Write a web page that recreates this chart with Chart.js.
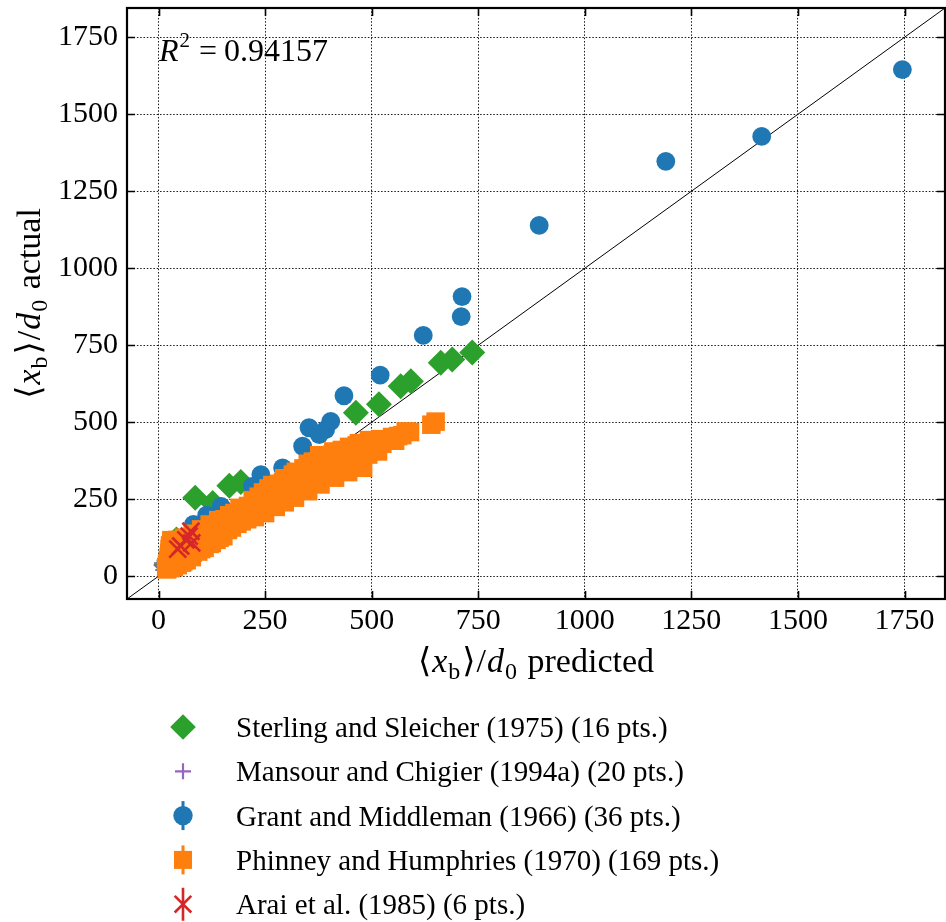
<!DOCTYPE html>
<html><head><meta charset="utf-8">
<script src="https://cdn.jsdelivr.net/npm/chart.js@4/dist/chart.umd.min.js"></script>
<style>html,body{margin:0;padding:0;background:#fff}canvas{display:block}</style>
</head><body>
<canvas id="c" width="946" height="922" style="width:946px;height:922px"></canvas>
<script>
// ---------------- data ----------------
const tickValues = [0, 250, 500, 750, 1000, 1250, 1500, 1750];
const tickLabels = ['0', '250', '500', '750', '1000', '1250', '1500', '1750'];
const axisMin = -74;
const axisMax = 1845;
const identityLine = [-74, 1845];
const rSquared = '0.94157';

const seriesLabels = [
  'Sterling and Sleicher (1975) (16 pts.)',
  'Mansour and Chigier (1994a) (20 pts.)',
  'Grant and Middleman (1966) (36 pts.)',
  'Phinney and Humphries (1970) (169 pts.)',
  'Arai et al. (1985) (6 pts.)'
];

const sterlingX = [736, 689, 662, 592, 568, 517, 463, 193, 166, 127, 86, 42, 18, 30, 55, 25];
const sterlingY = [726, 704, 693, 633, 617, 558, 531, 306, 294, 238, 255, 119, 36, 70, 95, 52];

const mansourX = [8, 11, 13, 14, 17, 19, 21, 22, 25, 26, 29, 31, 33, 35, 37, 39, 42, 45, 49, 53];
const mansourY = [42, 20, 30, 35, 50, 25, 45, 60, 33, 48, 70, 40, 58, 28, 75, 52, 65, 45, 80, 60];

const grantX = [1745, 1415, 1190, 893, 712, 710, 621, 520, 435, 404, 392, 377, 353, 338, 291, 240, 220, 147, 113, 82,
  20, 25, 30, 38, 45, 55, 62, 70, 90, 130, 175, 210, 260, 300, 340, 48];
const grantY = [1645, 1428, 1347, 1139, 908, 843, 782, 653, 586, 503, 476, 460, 482, 422, 352, 330, 292, 227, 198, 168,
  28, 42, 55, 65, 75, 88, 95, 105, 120, 150, 180, 210, 245, 270, 300, 100];

const phinneyX = [
  20, 28, 36, 45, 55, 66, 78, 93, 108, 125, 143, 163, 185, 208, 226, 250, 275, 296, 320, 351, 380, 414, 445, 480,
  30, 45, 60, 80, 100, 120, 140, 166, 190, 221, 245, 267, 295, 322, 350, 377, 410, 447, 470, 494, 525, 548, 572, 580, 650,
  18, 20, 22, 24, 25, 26, 27, 30, 32, 33, 34, 35, 36, 38, 40, 42, 43, 44, 46, 48, 50, 52, 54, 56, 58, 60, 62, 64, 66, 70,
  72, 74, 76, 80, 84, 88, 92, 96, 100, 104,
  112, 120, 128, 136, 145, 152, 160, 172, 180, 195, 205, 215, 230, 240, 255, 262, 280, 288, 300, 310, 325, 335, 345, 358,
  368, 375, 390, 398, 405, 418, 425, 435, 442, 455, 462, 470, 485, 492, 505, 515,
  115, 130, 148, 155, 170, 178, 198, 210, 225, 235, 250, 258, 272, 282, 292, 305, 315, 330, 340, 352, 362, 372, 385, 395,
  408, 420, 430, 440, 452, 465, 478, 488, 500, 512, 520, 535, 555, 562, 590, 640
];
const phinneyY = [
  22, 26, 30, 36, 44, 52, 62, 80, 92, 108, 125, 150, 170, 185, 192, 205, 225, 240, 255, 276, 298, 320, 338, 352,
  117, 118, 125, 138, 152, 168, 182, 198, 222, 247, 272, 296, 318, 339, 365, 393, 405, 420, 432, 442, 430, 452, 458, 470, 502,
  30, 40, 52, 64, 76, 88, 100, 108, 92, 80, 68, 56, 46, 38, 50, 62, 74, 86, 98, 106, 92, 80, 68, 58, 48, 70, 84, 96, 108, 98,
  86, 74, 64, 76, 90, 104, 118, 100, 88, 110,
  120, 105, 132, 118, 142, 130, 165, 158, 185, 178, 205, 196, 228, 215, 245, 230, 262, 250, 285, 268, 300, 285, 320, 300,
  340, 318, 355, 335, 378, 350, 392, 362, 400, 372, 410, 385, 418, 395, 425, 405,
  140, 155, 165, 185, 190, 205, 210, 228, 240, 258, 268, 285, 278, 300, 306, 318, 330, 325, 350, 345, 372, 365, 385, 372,
  395, 380, 410, 385, 408, 425, 410, 432, 440, 420, 445, 440, 440, 455, 468, 492
];

const araiX = [45, 52, 64, 72, 78, 76];
const araiY = [88, 98, 118, 130, 108, 146];

// ---------------- styling ----------------
const SERIF = '"Liberation Serif", "DejaVu Serif", "DejaVu Sans", serif';
const colors = { green: '#2ca02c', purple: '#9467bd', blue: '#1f77b4', orange: '#ff7f0e', red: '#d62728' };

function pts(xs, ys) { return xs.map((x, i) => ({ x: x, y: ys[i] })); }

function richWidth(ctx, segs) {
  let w = 0;
  for (const s of segs) { ctx.font = s.f; w += (s.dx || 0) + ctx.measureText(s.t).width; }
  return w;
}
function drawRich(ctx, segs, x, y) {
  let cx = x;
  for (const s of segs) {
    cx += s.dx || 0;
    ctx.font = s.f;
    ctx.fillText(s.t, cx, y + (s.dy || 0));
    cx += ctx.measureText(s.t).width;
  }
}
function axisTitleSegs(size, word) {
  const r = size + 'px ' + SERIF, it = 'italic ' + size + 'px ' + SERIF, sub = Math.round(size * 0.7) + 'px ' + SERIF;
  return [
    { t: '\u27E8', f: r }, { t: 'x', f: it, dx: 1 }, { t: 'b', f: sub, dy: size * 0.2, dx: 1 }, { t: '\u27E9', f: r, dx: 2 },
    { t: '/', f: r, dx: 1 }, { t: 'd', f: it, dx: 1 }, { t: '0', f: sub, dy: size * 0.2, dx: 1 }, { t: ' ' + word, f: r, dx: 2 }
  ];
}

const decorPlugin = {
  id: 'decor',
  afterDatasetsDraw(chart) {
    const { ctx, chartArea: a, scales } = chart;
    ctx.save();
    ctx.strokeStyle = '#000';
    ctx.lineWidth = 1.6;
    const tl = 8;
    for (const v of tickValues) {
      const px = Math.round(scales.x.getPixelForValue(v)) + 0.5;
      const py = Math.round(scales.y.getPixelForValue(v)) + 0.5;
      ctx.beginPath();
      ctx.moveTo(px, a.bottom); ctx.lineTo(px, a.bottom - tl);
      ctx.moveTo(px, a.top); ctx.lineTo(px, a.top + tl);
      ctx.moveTo(a.left, py); ctx.lineTo(a.left + tl, py);
      ctx.moveTo(a.right, py); ctx.lineTo(a.right - tl, py);
      ctx.stroke();
    }
    ctx.lineWidth = 2.2;
    ctx.strokeRect(a.left, a.top, a.right - a.left, a.bottom - a.top);
    ctx.restore();
  },
  afterDraw(chart) {
    const { ctx, chartArea: a } = chart;
    ctx.save();
    ctx.fillStyle = '#000';
    ctx.textBaseline = 'alphabetic';
    // R^2 annotation
    drawRich(ctx, [
      { t: 'R', f: 'italic 32px ' + SERIF },
      { t: '2', f: '21px ' + SERIF, dy: -14, dx: 1 },
      { t: '=', f: '32px ' + SERIF, dx: 9 },
      { t: rSquared, f: '32px ' + SERIF, dx: 7 }
    ], 159, 61);
    // x title
    const xs = axisTitleSegs(34, 'predicted');
    const xw = richWidth(ctx, xs);
    drawRich(ctx, xs, (a.left + a.right) / 2 - xw / 2, 672);
    // y title
    const ys = axisTitleSegs(34, 'actual');
    const yw = richWidth(ctx, ys);
    ctx.save();
    ctx.translate(40, (a.top + a.bottom) / 2);
    ctx.rotate(-Math.PI / 2);
    drawRich(ctx, ys, -yw / 2, 0);
    ctx.restore();

    // legend
    const lx = 183, tx = 236, y0 = 727, step = 44.3;
    chart.data.datasets.forEach((ds) => {
      if (!ds.legendKind) return;
      const y = y0 + step * ds.legendIndex;
      const c = ds.legendColor;
      ctx.save();
      ctx.fillStyle = c; ctx.strokeStyle = c;
      if (ds.legendKind === 'diamond') {
        const h = 12.8;
        ctx.beginPath(); ctx.moveTo(lx, y - h); ctx.lineTo(lx + h, y); ctx.lineTo(lx, y + h); ctx.lineTo(lx - h, y); ctx.closePath(); ctx.fill();
      } else if (ds.legendKind === 'plus') {
        ctx.lineWidth = 2.2;
        ctx.beginPath(); ctx.moveTo(lx - 8, y); ctx.lineTo(lx + 8, y); ctx.moveTo(lx, y - 8); ctx.lineTo(lx, y + 8); ctx.stroke();
      } else if (ds.legendKind === 'circle') {
        ctx.lineWidth = 3;
        ctx.beginPath(); ctx.moveTo(lx, y - 14.5); ctx.lineTo(lx, y + 14.5); ctx.stroke();
        ctx.beginPath(); ctx.arc(lx, y, 9.7, 0, Math.PI * 2); ctx.fill();
      } else if (ds.legendKind === 'square') {
        ctx.lineWidth = 3;
        ctx.beginPath(); ctx.moveTo(lx, y - 14.5); ctx.lineTo(lx, y + 14.5); ctx.stroke();
        ctx.fillRect(lx - 9, y - 9, 18, 18);
      } else if (ds.legendKind === 'x') {
        ctx.lineWidth = 2.6;
        ctx.beginPath();
        ctx.moveTo(lx, y - 16.5); ctx.lineTo(lx, y + 16.5);
        ctx.moveTo(lx - 8.3, y - 8.3); ctx.lineTo(lx + 8.3, y + 8.3);
        ctx.moveTo(lx - 8.3, y + 8.3); ctx.lineTo(lx + 8.3, y - 8.3);
        ctx.stroke();
      }
      ctx.restore();
      ctx.fillStyle = '#000';
      ctx.font = '29px ' + SERIF;
      ctx.fillText(ds.label, tx, y + 10);
    });
    ctx.restore();
  }
};

function zeroPad(s) { s.paddingLeft = 0; s.paddingRight = 0; s.paddingTop = 0; s.paddingBottom = 0; }

const commonScale = {
  type: 'linear',
  min: axisMin,
  max: axisMax,
  afterBuildTicks: (scale) => { scale.ticks = tickValues.map(v => ({ value: v })); },
  ticks: {
    font: { family: SERIF, size: 30 },
    color: '#000',
    callback: (v, i) => tickLabels[i]
  },
  grid: { color: 'rgba(0,0,0,0.9)', lineWidth: 1, drawTicks: false },
  border: { display: false, dash: [1.5, 1.8] }
};

new Chart(document.getElementById('c'), {
  type: 'scatter',
  data: {
    datasets: [
      { label: seriesLabels[0], data: pts(sterlingX, sterlingY), order: 5, pointStyle: 'rectRot', pointRadius: 13,
        backgroundColor: colors.green, borderWidth: 0, legendKind: 'diamond', legendIndex: 0, legendColor: colors.green },
      { label: seriesLabels[1], data: pts(mansourX, mansourY), order: 4, pointStyle: 'cross', pointRadius: 8,
        borderColor: colors.purple, backgroundColor: colors.purple, borderWidth: 2, legendKind: 'plus', legendIndex: 1, legendColor: colors.purple },
      { label: seriesLabels[2], data: pts(grantX, grantY), order: 3, pointStyle: 'circle', pointRadius: 9.4,
        backgroundColor: colors.blue, borderWidth: 0, legendKind: 'circle', legendIndex: 2, legendColor: colors.blue },
      { label: seriesLabels[3], data: pts(phinneyX, phinneyY), order: 2, pointStyle: 'rect', pointRadius: 13.1,
        backgroundColor: colors.orange, borderWidth: 0, legendKind: 'square', legendIndex: 3, legendColor: colors.orange },
      { label: seriesLabels[4], data: pts(araiX, araiY), order: 1, pointStyle: 'crossRot', pointRadius: 12,
        borderColor: colors.red, backgroundColor: colors.red, borderWidth: 2.6, legendKind: 'x', legendIndex: 4, legendColor: colors.red },
      { type: 'line', label: 'y = x', data: identityLine.map(v => ({ x: v, y: v })), order: 6, borderColor: '#000',
        borderWidth: 1, pointRadius: 0, fill: false, showLine: true }
    ]
  },
  options: {
    responsive: false,
    animation: false,
    devicePixelRatio: 1,
    events: [],
    layout: { autoPadding: false, padding: { top: 8, right: 1, bottom: 0, left: 0 } },
    plugins: { legend: { display: false }, tooltip: { enabled: false } },
    scales: {
      x: Object.assign({}, commonScale, {
        position: 'bottom',
        ticks: Object.assign({}, commonScale.ticks, { padding: 4, maxRotation: 0 }),
        afterFit: (s) => { s.height = 323; zeroPad(s); }
      }),
      y: Object.assign({}, commonScale, {
        position: 'left',
        ticks: Object.assign({}, commonScale.ticks, { padding: 9 }),
        afterFit: (s) => { s.width = 127; zeroPad(s); }
      })
    }
  },
  plugins: [decorPlugin]
});
</script>
</body></html>
